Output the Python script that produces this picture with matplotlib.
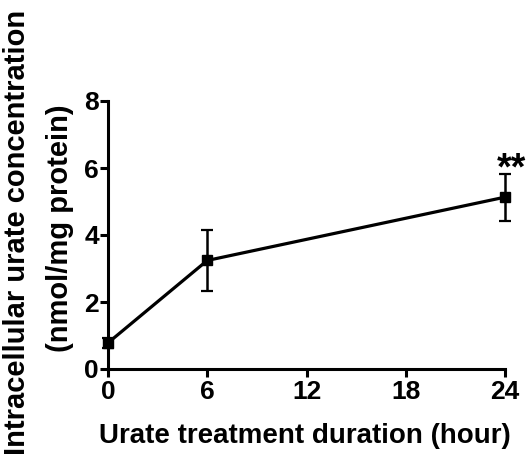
import matplotlib
matplotlib.use("Agg")
import matplotlib.pyplot as plt

hours = [0, 6, 24]
urate = [0.78, 3.24, 5.13]
sem = [0.15, 0.91, 0.70]
xticks = [0, 6, 12, 18, 24]
yticks = [0, 2, 4, 6, 8]

plt.rcParams['font.family'] = ['Liberation Sans', 'DejaVu Sans']
plt.rcParams['font.weight'] = 'bold'

fig = plt.figure(figsize=(5.3, 4.55), dpi=100)
ax = fig.add_axes([108/530, 1-369/455, (505-108)/530, (369-101)/455])

ax.errorbar(hours, urate, yerr=sem, color='black', lw=2.3, marker='s', ms=7,
            capsize=4.3, capthick=1.6, elinewidth=1.8, clip_on=False, zorder=3)

ax.set_xlim(0, 24)
ax.set_ylim(0, 8)
ax.set_xticks(xticks)
ax.set_yticks(yticks)
ax.set_xticklabels([str(t) for t in xticks], fontsize=19, fontweight='bold')
ax.set_yticklabels([str(t) for t in yticks], fontsize=19, fontweight='bold')
for s in ['top', 'right']:
    ax.spines[s].set_visible(False)
for s in ['left', 'bottom']:
    ax.spines[s].set_linewidth(2.2)
ax.tick_params(direction='out', length=5.5, width=2.2)
ax.tick_params(axis='x', pad=2.5)
ax.tick_params(axis='y', pad=1)

fig.text(305/530, 1-443/455, 'Urate treatment duration (hour)', fontsize=20,
         fontweight='bold', ha='center', va='baseline')
fig.text(25/530, 1-232/455, 'Intracellular urate concentration', rotation=90,
         rotation_mode='anchor', fontsize=21, fontweight='bold',
         ha='center', va='baseline')
fig.text(68/530, 1-228/455, '(nmol/mg protein)', rotation=90,
         rotation_mode='anchor', fontsize=21, fontweight='bold',
         ha='center', va='baseline')

ax.annotate('**', xy=(24, urate[2] + sem[2]), xytext=(5, -4),
            textcoords='offset points', ha='center', va='baseline',
            fontsize=27, fontweight='bold', annotation_clip=False)

fig.savefig('out.png', dpi=100)
